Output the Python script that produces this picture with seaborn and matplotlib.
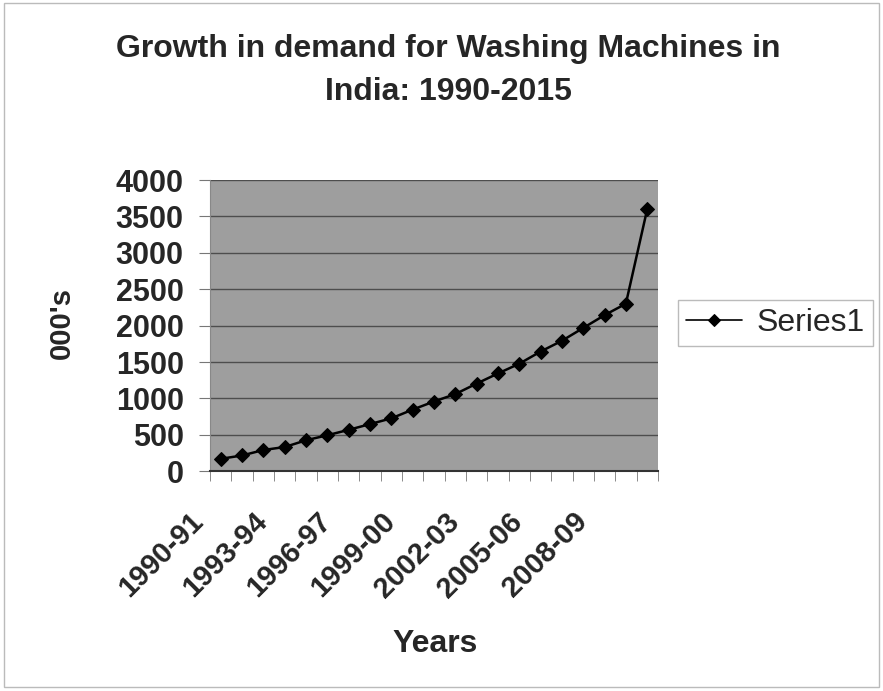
import numpy as np
import pandas as pd
import seaborn as sns
import matplotlib.pyplot as plt
from matplotlib.transforms import ScaledTranslation

years = ['1990-91', '1991-92', '1992-93', '1993-94', '1994-95', '1995-96', '1996-97',
         '1997-98', '1998-99', '1999-00', '2000-01', '2001-02', '2002-03', '2003-04',
         '2004-05', '2005-06', '2006-07', '2007-08', '2008-09', '2009-10', '2010-11']
demand = [171, 217, 292, 333, 426, 495, 569, 648, 727, 847, 958, 1060, 1204, 1343,
          1477, 1644, 1792, 1968, 2144, 2301, 3597]
shown_labels = ['1990-91', '1993-94', '1996-97', '1999-00', '2002-03', '2005-06', '2008-09']

df = pd.DataFrame({'Years': years, 'Demand': demand})

sns.set_style('white')
plt.rcParams['font.family'] = ['Liberation Sans', 'DejaVu Sans']

fig = plt.figure(figsize=(8.83, 6.91), dpi=100)
ax = fig.add_axes([0.238, 0.318, 0.507, 0.4215])
ax.set_facecolor('#9e9e9e')

sns.lineplot(data=df, x='Years', y='Demand', ax=ax, color='black', linewidth=1.8,
             marker='D', markersize=7, markeredgecolor='black', label='Series1', sort=False)

ax.set_ylim(0, 4000)
ax.set_xlim(-0.5, len(years) - 0.5)
ax.set_yticks(np.arange(0, 4001, 500))
ax.yaxis.grid(True, color='#4d4d4d', linewidth=1)
ax.set_axisbelow(True)

idx = [years.index(s) for s in shown_labels]
ax.set_xticks(idx)
ax.set_xticks(np.arange(-0.5, len(years)), minor=True)
ax.tick_params(axis='x', which='major', length=0, pad=26)
ax.tick_params(axis='x', which='minor', length=7, color='#777777', direction='out', bottom=True)
ax.tick_params(axis='y', length=8, color='#777777', left=True, labelsize=22, pad=11)
for t in ax.get_yticklabels():
    t.set_fontweight('bold')

# Excel puts the rotated labels a bit left of the category centre
ax.set_xticklabels(shown_labels, rotation=45, ha='right', va='top', rotation_mode='anchor',
                   fontsize=21, fontweight='bold')
shift = ScaledTranslation(-0.32, 0, fig.dpi_scale_trans)
for t in ax.get_xticklabels():
    t.set_transform(t.get_transform() + shift)

for side in ['top', 'right']:
    ax.spines[side].set_visible(False)
ax.spines['left'].set_color('#888888')
ax.spines['bottom'].set_color('#333333')
ax.spines['bottom'].set_linewidth(1.5)

ax.set_xlabel('Years', fontsize=23, fontweight='bold')
ax.set_ylabel("000's", fontsize=21, fontweight='bold')
ax.xaxis.set_label_coords(0.502, -0.54)
ax.yaxis.set_label_coords(-0.30, 0.51)

fig.text(0.508, 0.951, 'Growth in demand for Washing Machines in\nIndia: 1990-2015',
         ha='center', va='top', fontsize=23, fontweight='bold', linespacing=1.55)

leg = ax.legend(loc='upper left', bbox_to_anchor=(0.768, 0.566), bbox_transform=fig.transFigure,
                fontsize=23, frameon=True, fancybox=False, edgecolor='#aaaaaa',
                handlelength=1.75, handletextpad=0.45, borderpad=0.25, borderaxespad=0)
leg.get_frame().set_linewidth(1)
for h in leg.legend_handles:
    h.set_markersize(6)
    h.set_linewidth(1.2)

fig.patches.append(plt.Rectangle((0.004, 0.006), 0.992, 0.99, transform=fig.transFigure,
                                 fill=False, edgecolor='#bbbbbb', linewidth=1))

fig.savefig('out.png', dpi=100)
